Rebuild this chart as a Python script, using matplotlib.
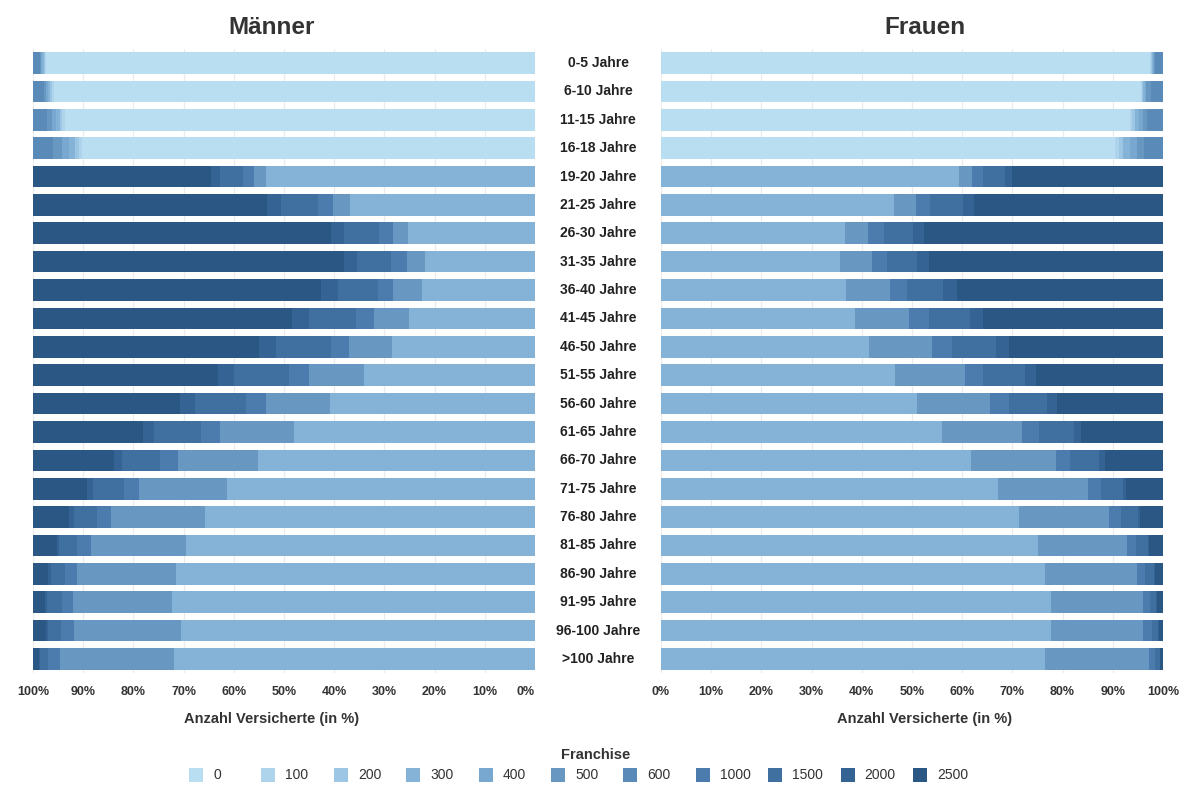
import matplotlib

matplotlib.use("Agg")
import matplotlib.pyplot as plt
from matplotlib.patches import Rectangle
import numpy as np

plt.rcParams["font.family"] = ["Liberation Sans", "DejaVu Sans"]

AGES = [
    "0-5 Jahre", "6-10 Jahre", "11-15 Jahre", "16-18 Jahre", "19-20 Jahre", "21-25 Jahre",
    "26-30 Jahre", "31-35 Jahre", "36-40 Jahre", "41-45 Jahre", "46-50 Jahre", "51-55 Jahre",
    "56-60 Jahre", "61-65 Jahre", "66-70 Jahre", "71-75 Jahre", "76-80 Jahre", "81-85 Jahre",
    "86-90 Jahre", "91-95 Jahre", "96-100 Jahre", ">100 Jahre",
]
FRANCHISE = ["0", "100", "200", "300", "400", "500", "600", "1000", "1500", "2000", "2500"]
COLORS = ["#b9ddf1", "#aed4ec", "#9cc6e4", "#85b3d7", "#78a8d0", "#6898c2",
          "#5a8ab8", "#4b7cad", "#40709f", "#356394", "#2b5784"]

Z18 = [0.0] * 18  # adults have no 0/100/200/400/600 franchise
Z4 = [0.0] * 4    # children have no 1000+ franchise

# Männer, share in % per age group (top to bottom)
m_0 = [97.4, 95.8, 93.7, 90.3] + Z18
m_100 = [0.2, 0.4, 0.5, 0.5] + Z18
m_200 = [0.3, 0.4, 0.5, 0.8] + Z18
m_300 = [0.3, 0.4, 0.8, 1.2, 53.5, 36.9, 25.2, 22.0, 22.6, 25.1, 28.5, 34.0, 40.8, 48.0,
         55.2, 61.3, 65.8, 69.6, 71.6, 72.3, 70.6, 71.9]
m_400 = [0.3, 0.5, 0.8, 1.4] + Z18
m_500 = [0.2, 0.3, 1.0, 1.8, 2.5, 3.4, 3.1, 3.5, 5.6, 7.0, 8.6, 11.1, 12.7, 14.7,
         15.9, 17.6, 18.6, 18.8, 19.6, 19.8, 21.3, 22.7]
m_600 = [1.3, 2.2, 2.7, 4.0] + Z18
m_1000 = Z4 + [2.1, 2.9, 2.8, 3.2, 3.1, 3.6, 3.6, 3.9, 4.1, 3.8, 3.6, 3.0, 2.9, 2.8, 2.4, 2.1, 2.6, 2.4]
m_1500 = Z4 + [4.6, 7.3, 7.0, 6.7, 8.0, 9.4, 10.9, 11.0, 10.2, 9.4, 7.5, 6.1, 4.6, 3.7, 2.8, 3.0, 2.6, 1.6]
m_2000 = Z4 + [1.8, 2.8, 2.6, 2.6, 3.3, 3.3, 3.4, 3.2, 2.9, 2.1, 1.7, 1.2, 1.0, 0.3, 0.6, 0.4, 0.3, 0.2]
m_2500 = Z4 + [35.5, 46.7, 59.3, 62.0, 57.4, 51.6, 45.0, 36.8, 29.3, 22.0, 16.1, 10.8, 7.1, 4.8, 3.0, 2.4, 2.6, 1.2]

# Frauen
f_0 = [97.5, 95.6, 93.4, 90.5] + Z18
f_100 = [0.2, 0.3, 0.5, 0.7] + Z18
f_200 = [0.2, 0.2, 0.6, 0.9] + Z18
f_300 = [0.2, 0.3, 0.8, 1.3, 59.3, 46.4, 36.6, 35.7, 36.9, 38.6, 41.5, 46.6, 50.9, 56.0,
         61.7, 67.2, 71.4, 75.0, 76.5, 77.6, 77.6, 76.5]
f_400 = [0.1, 0.3, 0.7, 1.4] + Z18
f_500 = [0.2, 0.9, 0.9, 1.5, 2.6, 4.3, 4.6, 6.4, 8.7, 10.8, 12.5, 13.9, 14.6, 15.9,
         16.9, 17.8, 17.8, 17.8, 18.3, 18.4, 18.4, 20.7]
f_600 = [1.6, 2.4, 3.1, 3.7] + Z18
f_1000 = Z4 + [2.2, 2.9, 3.2, 3.0, 3.4, 4.0, 3.9, 3.6, 3.9, 3.3, 2.9, 2.6, 2.4, 1.9, 1.7, 1.4, 1.8, 1.2]
f_1500 = Z4 + [4.4, 6.5, 5.8, 5.8, 7.2, 8.2, 8.9, 8.5, 7.4, 7.0, 5.7, 4.4, 3.4, 2.4, 1.7, 1.3, 1.2, 1.0]
f_2000 = Z4 + [1.4, 2.2, 2.2, 2.5, 2.7, 2.6, 2.5, 2.1, 2.1, 1.4, 1.3, 0.6, 0.4, 0.2, 0.2, 0.2, 0.2, 0.1]
f_2500 = Z4 + [30.1, 37.7, 47.6, 46.6, 41.1, 35.8, 30.7, 25.3, 21.1, 16.4, 11.5, 7.4, 4.6, 2.7, 1.6, 1.1, 0.8, 0.5]

MAENNER = [m_0, m_100, m_200, m_300, m_400, m_500, m_600, m_1000, m_1500, m_2000, m_2500]
FRAUEN = [f_0, f_100, f_200, f_300, f_400, f_500, f_600, f_1000, f_1500, f_2000, f_2500]

TXT = "#333333"
W, H = 1182, 785
fig = plt.figure(figsize=(W / 100, H / 100), dpi=100)
ax_bottom = 1 - 673.2 / H
ax_height = 624.4 / H
ax_m = fig.add_axes([33 / W, ax_bottom, 502 / W, ax_height])
ax_f = fig.add_axes([661 / W, ax_bottom, 502 / W, ax_height])

y = np.arange(len(AGES))
# titles/xlabels sit slightly off the pane centre (outward), as in the original
panels = ((ax_m, MAENNER, "Männer", 0.476), (ax_f, FRAUEN, "Frauen", 0.526))
for ax, series, title, xc in panels:
    left = np.zeros(len(AGES))
    for vals, col in zip(series, COLORS):
        vals = np.array(vals)
        ax.barh(y, vals, left=left, height=0.76, color=col, edgecolor="none", zorder=2)
        left += vals
    ax.set_ylim(len(AGES) - 0.5, -0.5)
    ax.set_yticks([])
    ax.set_xticks(np.arange(0, 101, 10))
    ax.set_xticklabels([f"{t}%" for t in range(0, 101, 10)], fontsize=9, fontweight="bold", color=TXT)
    ax.tick_params(axis="x", length=0, pad=9)
    ax.grid(axis="x", color="#ececec", linewidth=0.9, zorder=0)
    for s in ax.spines.values():
        s.set_visible(False)
    ax.set_xlabel("Anzahl Versicherte (in %)", fontsize=10.5, fontweight="bold", color=TXT,
                  labelpad=10, x=xc)
    ax.set_title(title, fontsize=17.5, fontweight="bold", color=TXT, pad=11, x=xc)

ax_m.set_xlim(100, 0)
ax_f.set_xlim(0, 100)
# the "0%" label of the reversed axis sits a bit inward, as in the original
ax_m.get_xticklabels()[0].set_horizontalalignment("right")

# age labels in the middle column
for i, lab in enumerate(AGES):
    yy = ax_m.transData.transform((0, i))[1]
    fig.text(598 / W, yy / fig.dpi / fig.get_figheight(), lab, ha="center", va="center",
             fontsize=10, fontweight="bold", color="#222222")

# legend drawn by hand so that the entries keep an even pitch
fig.text(596 / W, 1 - 755 / H, "Franchise", ha="center", va="center", fontsize=10.5,
         fontweight="bold", color=TXT)
for i, (lab, col) in enumerate(zip(FRANCHISE, COLORS)):
    x0 = 189 + 72.4 * i
    fig.patches.append(Rectangle((x0 / W, 1 - 782 / H), 14 / W, 14 / H, facecolor=col,
                                 edgecolor="none", transform=fig.transFigure, figure=fig))
    fig.text((x0 + 24) / W, 1 - 775 / H, lab, ha="left", va="center", fontsize=10, color=TXT)

fig.savefig("out.png", dpi=100, facecolor="white")
